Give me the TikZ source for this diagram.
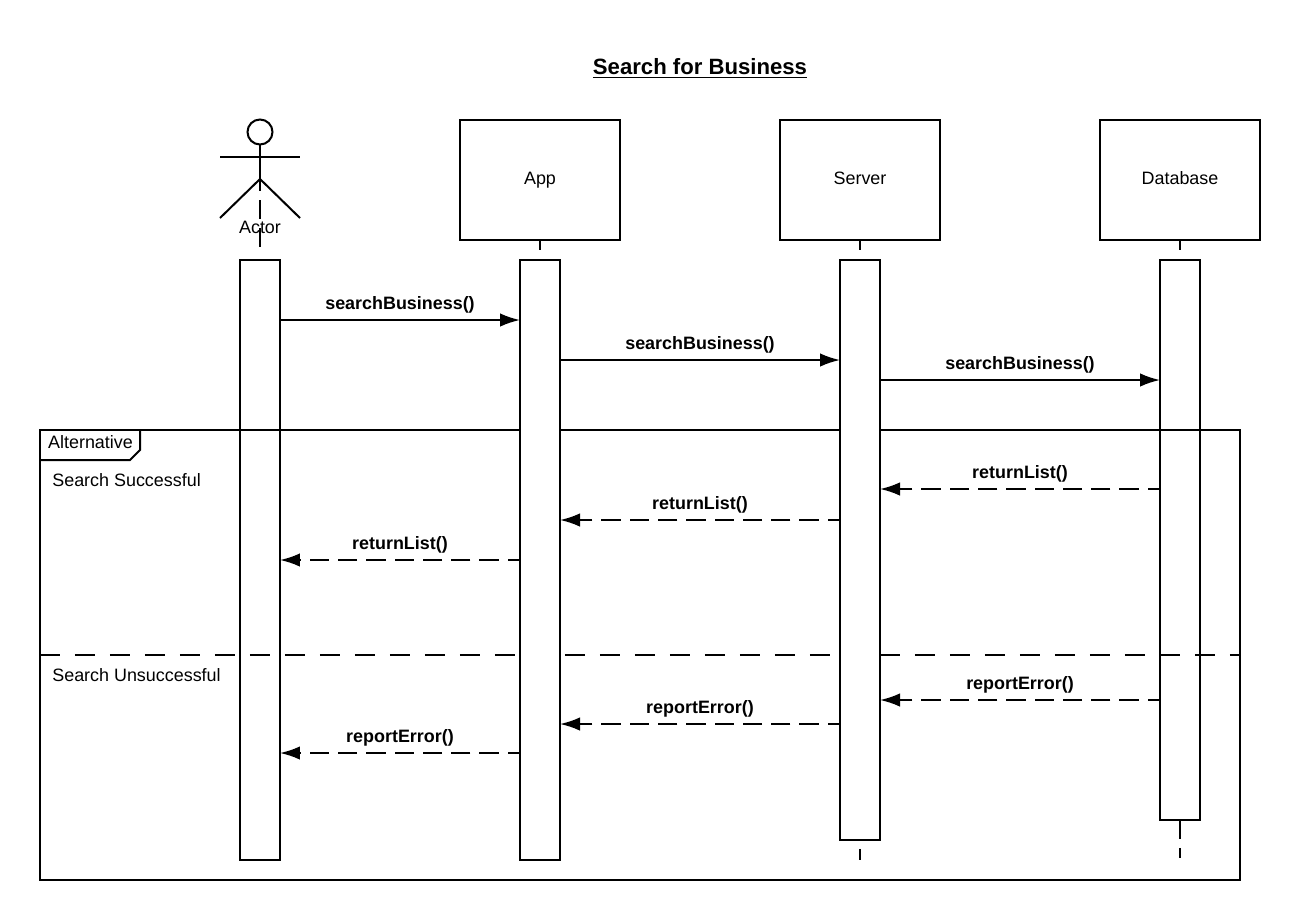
\documentclass[tikz,border=0pt]{standalone}
\usepackage{fontspec}
\setmainfont{Liberation Sans}
\usetikzlibrary{arrows.meta}
\tikzset{
    objbox/.style={draw,fill=white,line width=0.04cm,minimum width=3.2cm,minimum height=2.4cm,inner sep=0pt,outer sep=0pt,text height=7pt,text depth=2.4pt,font=\fontsize{10.2pt}{12pt}\selectfont},
    actbar/.style={draw,fill=white,line width=0.04cm,minimum width=0.8cm,inner sep=0pt,outer sep=0pt},
    lifeline/.style={line width=0.04cm,dash pattern=on 0.38cm off 0.18cm},
    stickline/.style={line width=0.04cm},
    msg/.style={line width=0.04cm,-{Latex[length=0.4cm,width=0.27cm]},shorten >=0cm},
    ret/.style={msg,dash pattern=on 0.386cm off 0.18cm,dash phase=0.14cm},
    msglabel/.style={font=\fontsize{10.2pt}{12pt}\selectfont\bfseries,inner sep=0pt},
    txtlabel/.style={font=\fontsize{10.2pt}{12pt}\selectfont,inner sep=0pt}
}
\begin{document}
\begin{tikzpicture}[x=0.02cm,y=-0.02cm]
    \useasboundingbox (0,0) rectangle (1300,920);
    \fill[white] (0,0) rectangle (1300,920);
    \node[font=\fontsize{12.6pt}{15pt}\selectfont\bfseries,inner sep=0pt] (title) at (700,68.5) {\underline{Search for Business}};
    % actor
    \node[draw,circle,line width=0.04cm,minimum size=0.5cm,inner sep=0pt,outer sep=0pt] (head) at (260,132) {};
    \coordinate (armL) at (220,157);
    \coordinate (armR) at (300,157);
    \coordinate (hip) at (260,179);
    \coordinate (legL) at (220,218);
    \coordinate (legR) at (300,218);
    \draw[stickline] (armL) -- (armR);
    \draw[stickline] (head.south) -- (hip);
    \draw[stickline] (legL) -- (hip) -- (legR);
    \node[txtlabel] (actor) at (260,227) {Actor};
    % objects
    \node[objbox] (app) at (540,180) {App};
    \node[objbox] (server) at (860,180) {Server};
    \node[objbox] (database) at (1180,180) {Database};
    % lifelines
    \coordinate (actorEnd) at (260,249);
    \coordinate (appEnd) at (540,250);
    \coordinate (serverEnd) at (860,250);
    \coordinate (databaseEnd) at (1180,250);
    \coordinate (serverFoot) at (860,860);
    \coordinate (databaseFoot) at (1180,858);
    \draw[lifeline] (head.south) -- (actorEnd);
    \draw[lifeline] (app.south) -- (appEnd);
    \draw[lifeline] (server.south) -- (serverEnd);
    \draw[lifeline] (database.south) -- (databaseEnd);
    % bars behind the frame
    \node[actbar,minimum height=12cm] (barActor) at (260,560) {};
    \node[actbar,minimum height=11.2cm] (barDatabase) at (1180,540) {};
    \draw[lifeline] (barDatabase.south) -- (databaseFoot);
    % frame
    \node[draw,line width=0.04cm,minimum width=24cm,minimum height=9cm,inner sep=0pt,outer sep=0pt] (frame) at (640,655) {};
    \coordinate (tabA) at (40,460);
    \coordinate (tabB) at (130,460);
    \coordinate (tabC) at (140,450);
    \coordinate (tabD) at (140,430);
    \draw[stickline] (tabA) -- (tabB) -- (tabC) -- (tabD);
    \node[txtlabel] (alt) at (90.5,442.5) {Alternative};
    \node[txtlabel,anchor=west] (success) at (52,480.5) {Search Successful};
    \node[txtlabel,anchor=west] (fail) at (52,675.5) {Search Unsuccessful};
    \coordinate (divA) at (40,655);
    \coordinate (divB) at (1240,655);
    \draw[line width=0.04cm,dash pattern=on 0.4cm off 0.3cm] (divA) -- (divB);
    % bars in front of the frame
    \node[actbar,minimum height=12cm] (barApp) at (540,560) {};
    \node[actbar,minimum height=11.6cm] (barServer) at (860,550) {};
    \draw[lifeline,dash phase=0.38cm] (barServer.south) -- (serverFoot);
    % messages
    \coordinate (m1) at (0,320);
    \coordinate (m2) at (0,360);
    \coordinate (m3) at (0,380);
    \coordinate (r1) at (0,489);
    \coordinate (r2) at (0,520);
    \coordinate (r3) at (0,560);
    \coordinate (e1) at (0,700);
    \coordinate (e2) at (0,724);
    \coordinate (e3) at (0,753);
    \draw[msg] (barActor.east |- m1) -- node[msglabel,above=0.12cm] (l1) {searchBusiness()} (barApp.west |- m1);
    \draw[msg] (barApp.east |- m2) -- node[msglabel,above=0.12cm] (l2) {searchBusiness()} (barServer.west |- m2);
    \draw[msg] (barServer.east |- m3) -- node[msglabel,above=0.12cm] (l3) {searchBusiness()} (barDatabase.west |- m3);
    \draw[ret] (barDatabase.west |- r1) -- node[msglabel,above=0.12cm] (l4) {returnList()} (barServer.east |- r1);
    \draw[ret] (barServer.west |- r2) -- node[msglabel,above=0.12cm] (l5) {returnList()} (barApp.east |- r2);
    \draw[ret] (barApp.west |- r3) -- node[msglabel,above=0.12cm] (l6) {returnList()} (barActor.east |- r3);
    \draw[ret] (barDatabase.west |- e1) -- node[msglabel,above=0.12cm] (l7) {reportError()} (barServer.east |- e1);
    \draw[ret] (barServer.west |- e2) -- node[msglabel,above=0.12cm] (l8) {reportError()} (barApp.east |- e2);
    \draw[ret] (barApp.west |- e3) -- node[msglabel,above=0.12cm] (l9) {reportError()} (barActor.east |- e3);
\end{tikzpicture}
\end{document}
